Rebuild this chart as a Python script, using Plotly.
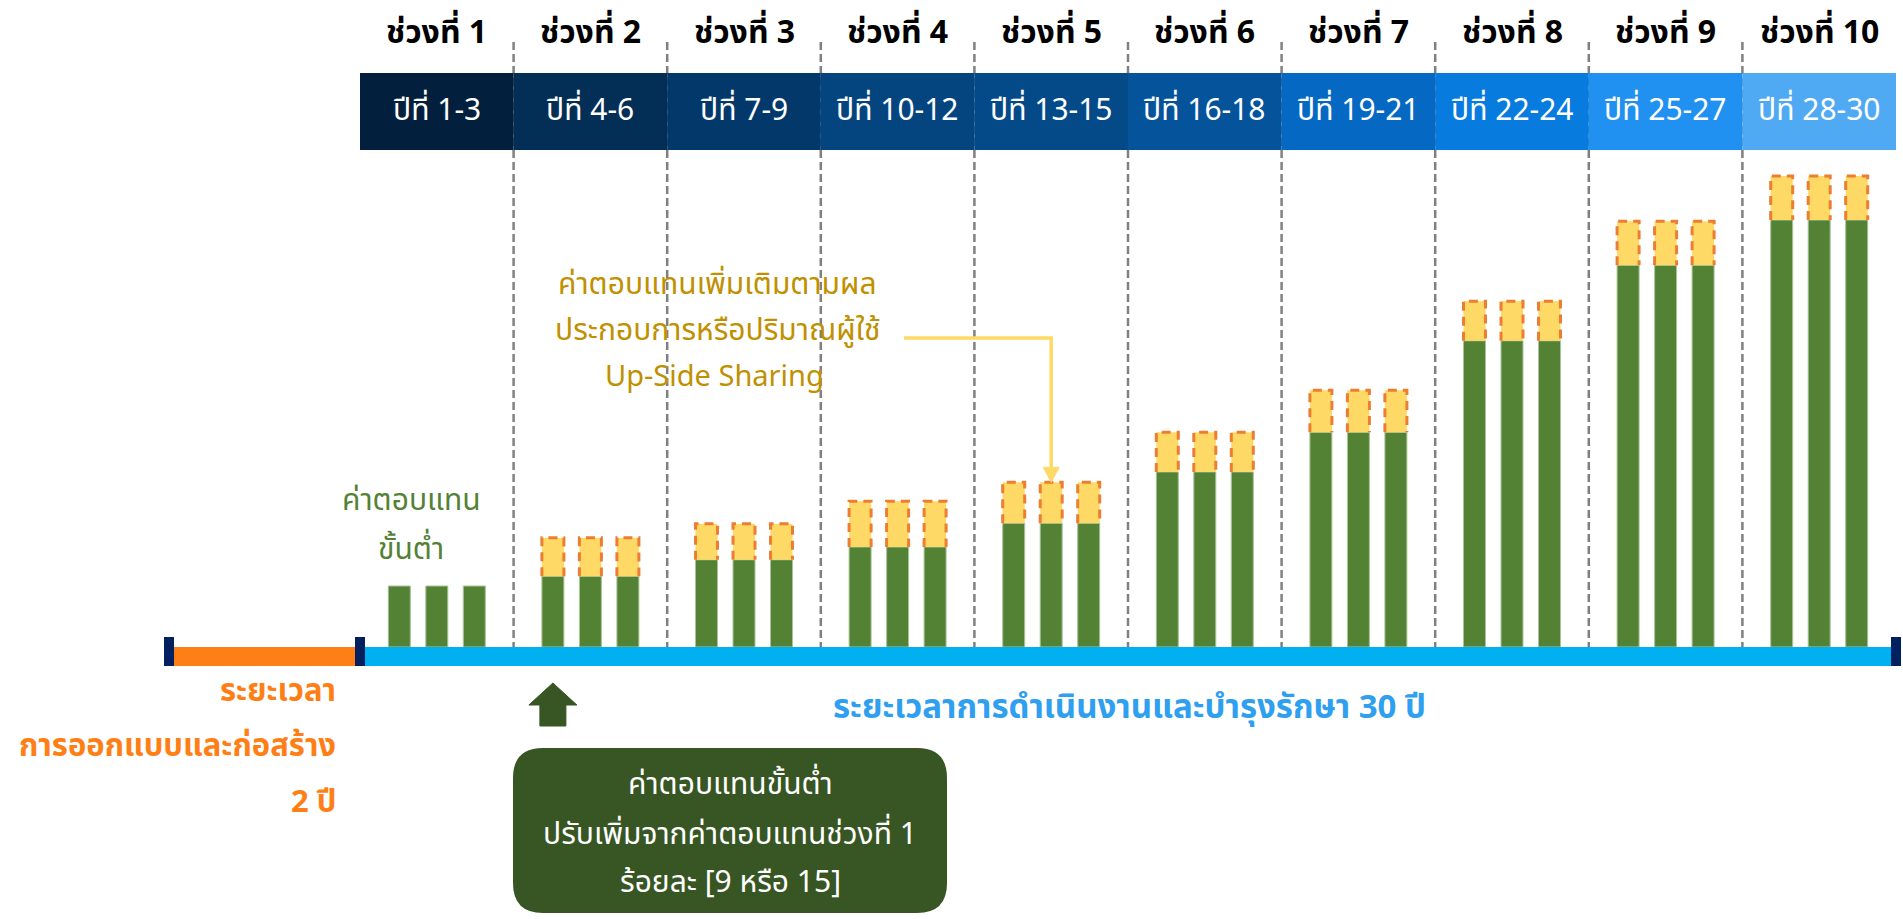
import plotly.graph_objects as go

# ---------------- data ----------------
periods = ["ช่วงที่ 1", "ช่วงที่ 2", "ช่วงที่ 3", "ช่วงที่ 4", "ช่วงที่ 5",
           "ช่วงที่ 6", "ช่วงที่ 7", "ช่วงที่ 8", "ช่วงที่ 9", "ช่วงที่ 10"]
year_ranges = ["ปีที่ 1-3", "ปีที่ 4-6", "ปีที่ 7-9", "ปีที่ 10-12", "ปีที่ 13-15",
               "ปีที่ 16-18", "ปีที่ 19-21", "ปีที่ 22-24", "ปีที่ 25-27", "ปีที่ 28-30"]
# relative minimum compensation per period (period 1 = 100), 3 years each
min_comp = [100, 116, 143, 164, 203, 287, 352, 502, 626, 700]
# relative up-side sharing on top of the minimum
upside = [0, 63, 59, 75, 67, 65, 69, 65, 72, 72]
years_per_period = 3

header_colors = ["#021F3D", "#032E56", "#03396A", "#04457F", "#044A89",
                 "#04539B", "#0568C3", "#077BDE", "#2091F0", "#4FA9F3"]

# ---------------- geometry ----------------
W, H = 1903, 919
X0, SEG = 360.0, 153.6          # pixel of first period start, period width
BASE_Y, PXU = 647.0, 0.61        # pixel of zero line, pixels per value unit
BAR_OFF = 37.5 / SEG
BAR_W = 22.0 / SEG

FONT = "Tahoma, 'Leelawadee UI', 'Noto Sans Thai', 'Noto Sans', sans-serif"


def px(x):
    return x / W


def py(y):
    return 1 - y / H


def xpix(xd):
    return X0 + SEG * xd


def ypix(v):
    return BASE_Y - v * PXU


xs, g_vals, u_vals, tot_vals = [], [], [], []
for k in range(len(periods)):
    for j in range(years_per_period):
        xs.append(k + 0.5 + (j - 1) * BAR_OFF)
        g_vals.append(min_comp[k])
        u_vals.append(upside[k])
        tot_vals.append(min_comp[k] + upside[k])

fig = go.Figure()
fig.add_trace(go.Bar(x=xs, y=g_vals, width=BAR_W,
                     marker=dict(color="#548235", line=dict(color="#A8C49A", width=1)),
                     hoverinfo="skip"))
fig.add_trace(go.Bar(x=xs, y=u_vals, base=g_vals, width=BAR_W,
                     marker=dict(color="#FFD966", line=dict(width=0)),
                     hoverinfo="skip"))

# dashed outlines of up-side parts
ox, oy = [], []
for x, g, u in zip(xs, g_vals, u_vals):
    if u <= 0:
        continue
    xl, xr = x - BAR_W / 2, x + BAR_W / 2
    ox += [xl, xl, xr, xr, None]
    oy += [g, g + u, g + u, g, None]
fig.add_trace(go.Scatter(x=ox, y=oy, mode="lines",
                         line=dict(color="#ED7D31", width=3, dash="9px,6px"),
                         hoverinfo="skip"))

shapes = []
# dashed separators
for k in range(1, len(periods)):
    shapes.append(dict(type="line", xref="x", yref="paper", x0=k, x1=k,
                       y0=py(42), y1=py(BASE_Y), layer="below",
                       line=dict(color="#808080", width=2.5, dash="8px,4px")))
# header boxes
for k, c in enumerate(header_colors):
    shapes.append(dict(type="rect", xref="x", yref="paper", x0=k, x1=k + 1,
                       y0=py(150), y1=py(73), fillcolor=c, line=dict(width=0),
                       layer="below"))
# timeline bars
shapes.append(dict(type="rect", xref="paper", yref="paper", x0=px(174), x1=px(355),
                   y0=py(666), y1=py(647), fillcolor="#FF7F17", line=dict(width=0)))
shapes.append(dict(type="rect", xref="paper", yref="paper", x0=px(365), x1=px(1891),
                   y0=py(666), y1=py(647), fillcolor="#00B0F0", line=dict(width=0)))
for a, b in [(164, 174), (355, 365), (1891, 1901)]:
    shapes.append(dict(type="rect", xref="paper", yref="paper", x0=px(a), x1=px(b),
                       y0=py(666), y1=py(637), fillcolor="#002060", line=dict(width=0)))

# green up arrow under first year of period 2
ax = xpix(xs[3])
arrow_pts = [(ax - 24, 705), (ax, 683), (ax + 24, 705), (ax + 13, 705),
             (ax + 13, 726), (ax - 13, 726), (ax - 13, 705)]
path = "M " + " L ".join(f"{px(a)},{py(b)}" for a, b in arrow_pts) + " Z"
shapes.append(dict(type="path", xref="paper", yref="paper", path=path,
                   fillcolor="#375623", line=dict(color="#375623", width=1)))

# rounded green box
bx0, bx1, by0, by1, r = 513, 947, 748, 913, 30
rp = (f"M {px(bx0 + r)},{py(by0)} L {px(bx1 - r)},{py(by0)} "
      f"Q {px(bx1)},{py(by0)} {px(bx1)},{py(by0 + r)} "
      f"L {px(bx1)},{py(by1 - r)} Q {px(bx1)},{py(by1)} {px(bx1 - r)},{py(by1)} "
      f"L {px(bx0 + r)},{py(by1)} Q {px(bx0)},{py(by1)} {px(bx0)},{py(by1 - r)} "
      f"L {px(bx0)},{py(by0 + r)} Q {px(bx0)},{py(by0)} {px(bx0 + r)},{py(by0)} Z")
shapes.append(dict(type="path", xref="paper", yref="paper", path=rp,
                   fillcolor="#375623", line=dict(width=0)))

# yellow elbow arrow pointing at period 5 middle bar
tip_x = xpix(xs[13])
tip_y = ypix(tot_vals[13])
line_path = (f"M {px(904)},{py(338)} L {px(tip_x)},{py(338)} "
             f"L {px(tip_x)},{py(tip_y - 14)}")
shapes.append(dict(type="path", xref="paper", yref="paper", path=line_path,
                   line=dict(color="#FFD966", width=3.5)))
head = (f"M {px(tip_x - 8)},{py(tip_y - 15)} L {px(tip_x + 8)},{py(tip_y - 15)} "
        f"L {px(tip_x)},{py(tip_y)} Z")
shapes.append(dict(type="path", xref="paper", yref="paper", path=head,
                   fillcolor="#FFD966", line=dict(color="#FFD966", width=1)))

annotations = []
for k, (p, yr) in enumerate(zip(periods, year_ranges)):
    annotations.append(dict(x=k + 0.5, y=py(33), xref="x", yref="paper",
                            text=f"<b>{p}</b>", showarrow=False,
                            font=dict(family=FONT, size=32, color="#000000"),
                            xanchor="center", yanchor="middle"))
    annotations.append(dict(x=k + 0.5, y=py(111), xref="x", yref="paper",
                            text=yr, showarrow=False,
                            font=dict(family=FONT, size=30, color="#FFFFFF"),
                            xanchor="center", yanchor="middle"))


def txt(x, y, t, size, color, anchor="center", bold=False):
    annotations.append(dict(x=px(x), y=py(y), xref="paper", yref="paper",
                            text=f"<b>{t}</b>" if bold else t, showarrow=False,
                            font=dict(family=FONT, size=size, color=color),
                            xanchor=anchor, yanchor="middle"))


txt(411, 501, "ค่าตอบแทน", 30, "#548235")
txt(411, 550, "ขั้นต่ำ", 30, "#548235")

txt(717, 285, "ค่าตอบแทนเพิ่มเติมตามผล", 30, "#BF9000")
txt(717, 331, "ประกอบการหรือปริมาณผู้ใช้", 30, "#BF9000")
txt(714, 377, "Up-Side Sharing", 29, "#BF9000")

txt(338, 691, "ระยะเวลา", 31, "#FF7F17", anchor="right", bold=True)
txt(338, 746, "การออกแบบและก่อสร้าง", 31, "#FF7F17", anchor="right", bold=True)
txt(338, 802, "2 ปี", 31, "#FF7F17", anchor="right", bold=True)

txt(1129, 708, "ระยะเวลาการดำเนินงานและบำรุงรักษา 30 ปี", 33, "#2FA0F0", bold=True)

txt(730, 785, "ค่าตอบแทนขั้นต่ำ", 30, "#FFFFFF")
txt(730, 835, "ปรับเพิ่มจากค่าตอบแทนช่วงที่ 1", 30, "#FFFFFF")
txt(730, 883, "ร้อยละ [9 หรือ 15]", 30, "#FFFFFF")

fig.update_layout(
    width=W, height=H, margin=dict(l=0, r=0, t=0, b=0, pad=0),
    paper_bgcolor="#FFFFFF", plot_bgcolor="#FFFFFF",
    barmode="overlay", showlegend=False,
    xaxis=dict(range=[-X0 / SEG, (W - X0) / SEG], visible=False, fixedrange=True),
    yaxis=dict(range=[-(H - BASE_Y) / PXU, BASE_Y / PXU], visible=False, fixedrange=True),
    shapes=shapes, annotations=annotations,
    font=dict(family=FONT),
)

fig.write_html("out.html", config={"displayModeBar": False},
               post_script="document.body.style.margin='0';document.body.style.overflow='hidden';")
